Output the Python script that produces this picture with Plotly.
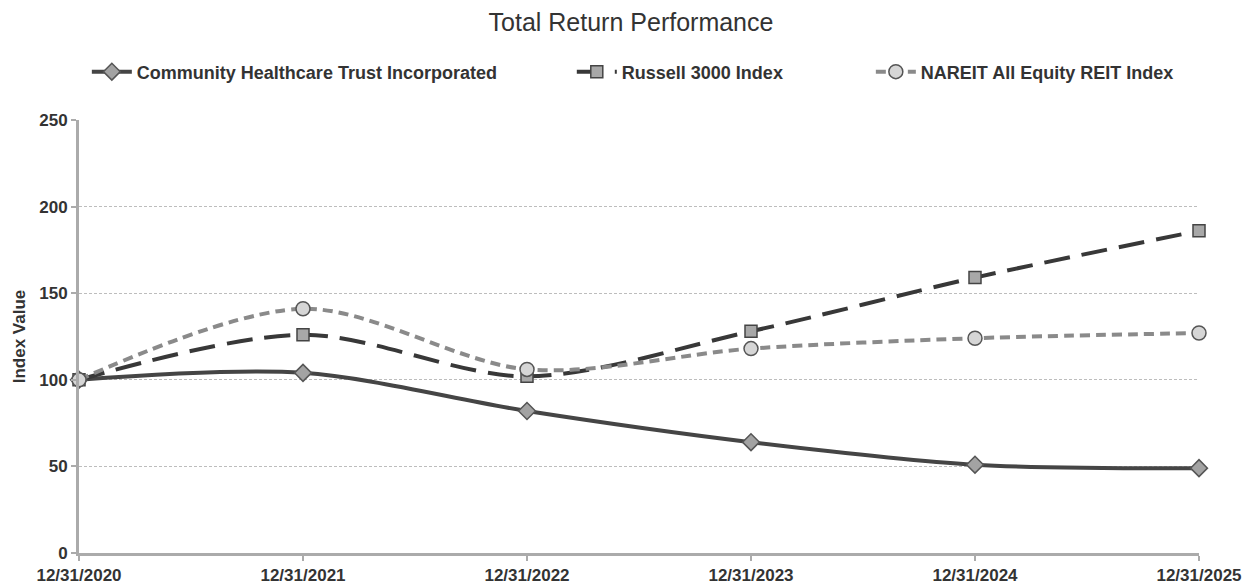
import plotly.graph_objects as go

dates = ["12/31/2020", "12/31/2021", "12/31/2022", "12/31/2023", "12/31/2024", "12/31/2025"]
chct = [100, 104, 82, 64, 51, 49]
russell = [100, 126, 102, 128, 159, 186]
nareit = [100, 141, 106, 118, 124, 127]
y_ticks = [0, 50, 100, 150, 200, 250]

xs = list(range(len(dates)))
FONT = "Liberation Sans, Arial, sans-serif"

fig = go.Figure()
fig.add_trace(go.Scatter(
    x=xs, y=chct, name="<b>Community Healthcare Trust Incorporated</b>", legend="legend",
    mode="lines+markers", line=dict(color="#454545", width=4, shape="spline", smoothing=0.9),
    marker=dict(symbol="diamond", size=13, color="#a3a3a3", line=dict(color="#555555", width=1.5)),
    cliponaxis=False))
fig.add_trace(go.Scatter(
    x=xs, y=russell, name="<b>Russell 3000 Index</b>", legend="legend2",
    mode="lines+markers", line=dict(color="#383838", width=4, dash="26px,12px", shape="spline", smoothing=0.9),
    marker=dict(symbol="square", size=12, color="#a8a8a8", line=dict(color="#444444", width=1.5)),
    cliponaxis=False))
fig.add_trace(go.Scatter(
    x=xs, y=nareit, name="<b>NAREIT All Equity REIT Index</b>", legend="legend3",
    mode="lines+markers", line=dict(color="#8a8a8a", width=4, dash="10px,6px", shape="spline", smoothing=0.9),
    marker=dict(symbol="circle", size=14, color="#d6d6d6", line=dict(color="#555555", width=1.5)),
    cliponaxis=False))

leg_common = dict(orientation="h", yref="container", y=0.889, yanchor="middle", xanchor="left",
                  font=dict(family=FONT, size=18, color="#333333"), itemwidth=40,
                  bgcolor="rgba(0,0,0,0)")
fig.update_layout(
    width=1246, height=576,
    paper_bgcolor="white", plot_bgcolor="white",
    margin=dict(l=71, r=55, t=112, b=31),
    font=dict(family=FONT, color="#333333"),
    title=dict(text="Total Return Performance", x=0.5, xanchor="center",
               yref="container", y=0.976, yanchor="middle",
               font=dict(size=25, color="#333333")),
    legend=dict(x=0.007, xref="paper", **leg_common),
    legend2=dict(x=0.440, xref="paper", **leg_common),
    legend3=dict(x=0.707, xref="paper", **leg_common),
    showlegend=True,
)
fig.update_xaxes(
    range=[0, 5], tickvals=xs, ticktext=["<b>%s</b>" % d for d in dates],
    showgrid=False, showline=True, linecolor="#ababab", linewidth=3,
    ticks="outside", ticklen=5, tickcolor="#ababab", tickwidth=2,
    tickfont=dict(size=17, color="#333333"), zeroline=False, automargin=False)
fig.update_yaxes(
    range=[0, 250], tickvals=y_ticks, ticktext=["<b>%d</b>" % v for v in y_ticks],
    showgrid=True, gridcolor="#bdbdbd", griddash="3px,2px", gridwidth=1,
    showline=True, linecolor="#ababab", linewidth=3,
    ticks="outside", ticklen=5, tickcolor="#ababab", tickwidth=2,
    tickfont=dict(size=17, color="#333333"), zeroline=False, automargin=False,
    title=dict(text="<b>Index Value</b>", font=dict(size=17, color="#333333"), standoff=10))

fig.write_html("out.html")
